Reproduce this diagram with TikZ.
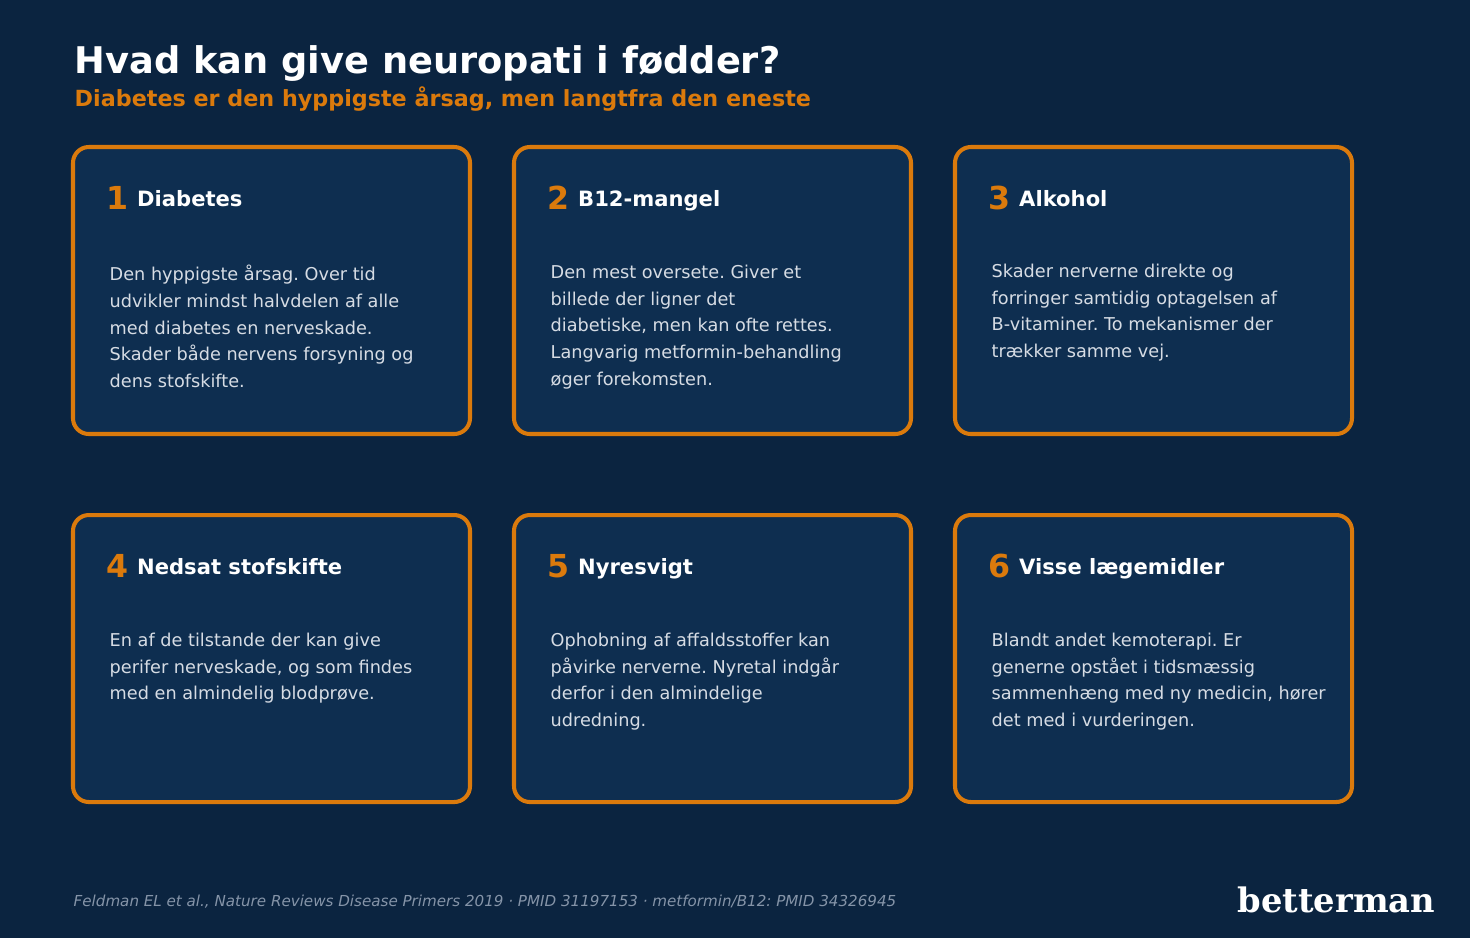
\documentclass[tikz,border=0pt]{standalone}
\usepackage{fontspec}
\setmainfont{DejaVu Sans}
\newfontfamily\logofont{DejaVu Serif}
\usetikzlibrary{positioning}
\definecolor{bgblue}{HTML}{0B2440}
\definecolor{cardblue}{HTML}{0E2E50}
\definecolor{accent}{HTML}{DB7A0C}
\definecolor{bodygrey}{HTML}{D6DCE4}
\definecolor{footgrey}{HTML}{8594A8}
\tikzset{
  card/.style={draw=accent, fill=cardblue, line width=1.15pt, rounded corners=4.5pt},
  num/.style={anchor=base west, inner sep=0pt, text=accent, font=\fontsize{9}{9}\selectfont\bfseries},
  head/.style={anchor=base west, inner sep=0pt, text=white, font=\fontsize{6}{7}\selectfont\bfseries},
  body/.style={anchor=north west, inner sep=0pt, text=bodygrey, align=left, font=\fontsize{5.03}{7.65}\selectfont},
}
\newcommand{\cardbox}[6]{%
  \draw[card] (#2,#3) rectangle ++(397,287);
  \node[num] (n#1) at (#2+33,#3+62) {#1};
  \node[head, right=2pt of n#1.base east, anchor=base west, yshift=0.8pt] (h#1) {#4};
  \node[body] (b#1) at (#2+36,#3+#6) {#5};
}
\begin{document}
\frenchspacing
\begin{tikzpicture}[x=0.01cm,y=-0.01cm]
\fill[bgblue] (0,0) rectangle (1470,938);
\node[anchor=base west, inner sep=0pt, text=white, font=\fontsize{10.45}{12}\selectfont\bfseries] (title) at (74,73) {Hvad kan give neuropati i fødder?};
\node[anchor=base west, inner sep=0pt, text=accent, font=\fontsize{6.33}{8}\selectfont\bfseries] (subtitle) at (74,106) {Diabetes er den hyppigste årsag, men langtfra den eneste};
\cardbox{1}{73}{147}{Diabetes}{Den hyppigste årsag. Over tid\\udvikler mindst halvdelen af alle\\med diabetes en nerveskade.\\Skader både nervens forsyning og\\dens stofskifte.}{117}
\cardbox{2}{514}{147}{B12-mangel}{Den mest oversete. Giver et\\billede der ligner det\\diabetiske, men kan ofte rettes.\\Langvarig metformin-behandling\\øger forekomsten.}{117}
\cardbox{3}{955}{147}{Alkohol}{Skader nerverne direkte og\\forringer samtidig optagelsen af\\B-vitaminer. To mekanismer der\\trækker samme vej.}{116}
\cardbox{4}{73}{515}{Nedsat stofskifte}{En af de tilstande der kan give\\perifer nerveskade, og som findes\\med en almindelig blodprøve.}{117}
\cardbox{5}{514}{515}{Nyresvigt}{Ophobning af affaldsstoffer kan\\påvirke nerverne. Nyretal indgår\\derfor i den almindelige\\udredning.}{117}
\cardbox{6}{955}{515}{Visse lægemidler}{Blandt andet kemoterapi. Er\\generne opstået i tidsmæssig\\sammenhæng med ny medicin, hører\\det med i vurderingen.}{117}
\node[anchor=base west, inner sep=0pt, text=footgrey, font=\fontsize{4.3}{5}\selectfont\itshape] (source) at (73,906) {Feldman EL et al., Nature Reviews Disease Primers 2019 · PMID 31197153 · metformin/B12: PMID 34326945};
\node[anchor=base east, inner sep=0pt, text=white, font=\fontsize{9.6}{12}\selectfont\logofont\bfseries] (logo) at (1436,912) {betterman};
\end{tikzpicture}
\end{document}
